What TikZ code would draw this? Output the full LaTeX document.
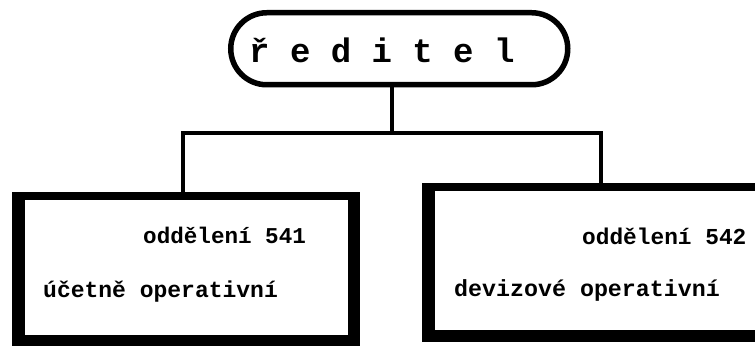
\documentclass[tikz,border=0pt]{standalone}
\usepackage{fontspec}
\newfontfamily\tw{Liberation Mono}
\begin{document}
\begin{tikzpicture}[x=1pt,y=-1pt,
  txt/.style={anchor=base west, inner sep=0pt, font=\tw\bfseries},
  heavybox/.style={fill=black, inner sep=0pt, anchor=north west},
  conn/.style={line width=3.5pt}]
\useasboundingbox[fill=white] (0,0) rectangle (755,347);
% top stadium
\node[draw, line width=5.5pt, rounded corners=36pt, minimum width=337pt, minimum height=72pt,
      anchor=north west, inner sep=0pt] (top) at (228,10) {};
\node[txt, font=\tw\bfseries\fontsize{34}{40}\selectfont] (toptxt) at (249,63) {ř e d i t e l};
% boxes
\node[heavybox, minimum width=348pt, minimum height=154pt] (b1) at (12,192) {};
\fill[white] (25,200) rectangle (348,335);
\node[heavybox, minimum width=350pt, minimum height=159pt] (b2) at (422,183) {};
\fill[white] (435,191) rectangle (775,330);
% connectors
\coordinate (j) at (392,133);
\coordinate (l) at (183,133);
\coordinate (r) at (601,133);
\draw[conn] (top.south -| j) -- (j);
\draw[conn] (b1.north -| l) -- (l) -- (r) -- (r |- b2.north);
% texts
\node[txt, font=\tw\bfseries\fontsize{22.6}{27}\selectfont] (t1a) at (143,244) {oddělení 541};
\node[txt, font=\tw\bfseries\fontsize{23}{28}\selectfont] (t1b) at (43,298) {účetně operativní};
\node[txt, font=\tw\bfseries\fontsize{22.8}{27}\selectfont] (t2a) at (582,245) {oddělení 542};
\node[txt, font=\tw\bfseries\fontsize{23.3}{28}\selectfont] (t2b) at (454,297) {devizové operativní};
\end{tikzpicture}
\end{document}
